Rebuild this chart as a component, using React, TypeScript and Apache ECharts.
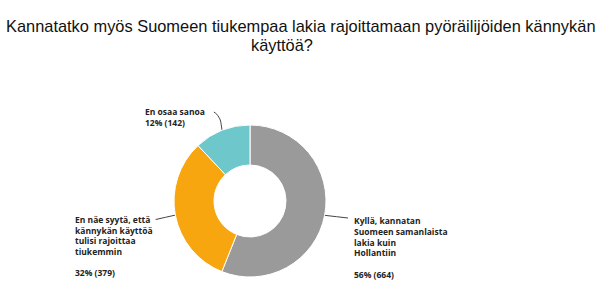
import React, { useEffect, useRef } from "react";
import * as echarts from "echarts";

const titleLine1 = "Kannatatko myös Suomeen tiukempaa lakia rajoittamaan pyöräilijöiden kännykän";
const titleLine2 = "käyttöä?";
const categories = [
  "Kyllä, kannatan\nSuomeen samanlaista\nlakia kuin\nHollantiin",
  "En näe syytä, että\nkännykän käyttöä\ntulisi rajoittaa\ntiukemmin",
  "En osaa sanoa",
];
const counts = [664, 379, 142];
const percents = [56, 32, 12];
const colors = ["#9a9a9a", "#f7a60f", "#6ec7cb"];

export default function App() {
  const ref = useRef<HTMLDivElement>(null);
  useEffect(() => {
    document.body.style.margin = "0";
    const chart = echarts.init(ref.current!, undefined, { renderer: "svg" });
    const labelPos = [
      { x: 354, y: 215.5 },
      { x: 75, y: 214 },
      { x: 145, y: 106.5 },
    ];
    const titleStyle = { fontFamily: "Liberation Sans", fontSize: 16.4, fontWeight: "normal", color: "#111" };
    chart.setOption({
      animation: false,
      backgroundColor: "#ffffff",
      title: [
        { text: titleLine1, left: 1, top: 13, textStyle: titleStyle },
        { text: titleLine2, left: 246, top: 31.5, textStyle: titleStyle },
      ],
      series: [
        {
          type: "pie",
          center: [250, 201],
          radius: [36, 76],
          startAngle: 90,
          clockwise: true,
          itemStyle: { borderColor: "#fff", borderWidth: 1 },
          emphasis: { disabled: true },
          label: {
            show: true,
            fontFamily: "Open Sans",
            fontWeight: "bold",
            fontSize: 8.5,
            lineHeight: 10.7,
            color: "#222",
            align: "left",
            formatter: (p: any) =>
              p.dataIndex === 2
                ? `${p.name}\n${percents[p.dataIndex]}% (${p.value})`
                : `${p.name}\n\n${percents[p.dataIndex]}% (${p.value})`,
          },
          labelLine: { show: true, length: 10, length2: 10, lineStyle: { color: "#444", width: 1 } },
          labelLayout: (params: any) => {
            const i = params.dataIndex;
            const pos = labelPos[i];
            const w = params.labelRect.width;
            const start = params.labelLinePoints ? params.labelLinePoints[0] : [0, 0];
            let end: number[];
            let mid: number[];
            if (i === 0) {
              end = [pos.x - 6, pos.y + 2.5];
              mid = [(start[0] + end[0]) / 2, (start[1] + end[1]) / 2];
            } else if (i === 1) {
              end = [pos.x + w + 3, pos.y + 5.5];
              mid = [(start[0] + end[0]) / 2, (start[1] + end[1]) / 2];
            } else {
              end = [pos.x + w + 9, pos.y + 5.5];
              mid = [start[0] - 2, start[1] - 14];
            }
            return {
              x: pos.x,
              y: pos.y,
              align: "left",
              verticalAlign: "top",
              labelLinePoints: [start, mid, end],
            };
          },
          data: categories.map((name, i) => ({
            name,
            value: counts[i],
            itemStyle: { color: colors[i] },
            labelLine: i === 2 ? { smooth: 0.5 } : { smooth: false },
          })),
        },
      ],
    });
    return () => chart.dispose();
  }, []);
  return <div ref={ref} style={{ width: 600, height: 301 }} />;
}
